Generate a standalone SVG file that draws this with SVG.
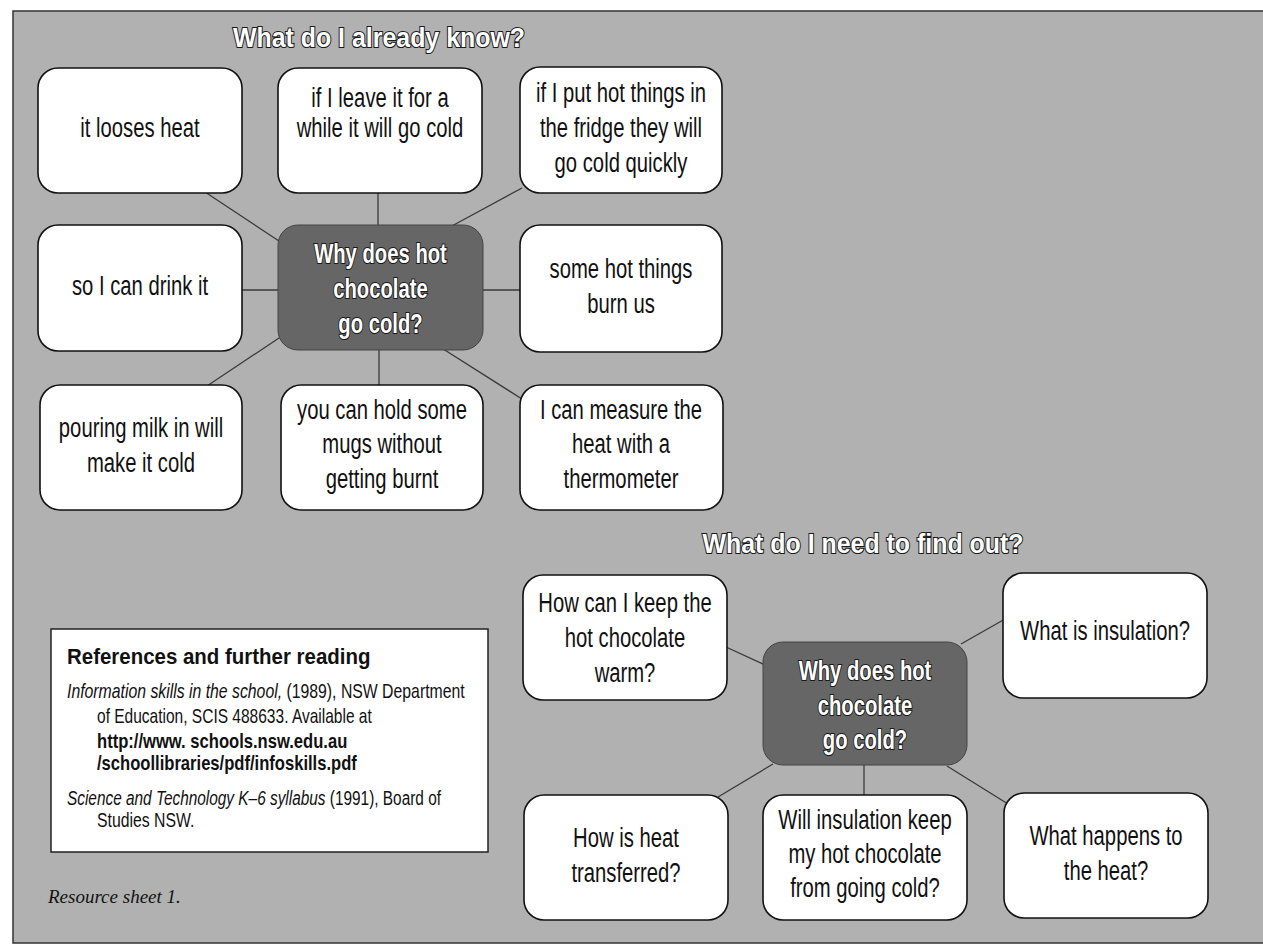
<svg xmlns="http://www.w3.org/2000/svg" width="1263" height="946" viewBox="0 0 1263 946">
<defs>
<style>
.bg{fill:#b1b1b1;stroke:#333;stroke-width:1.5}
.box{fill:#fff;stroke:#111;stroke-width:1.6}
.cbox{fill:#666666;stroke:#444;stroke-width:1}
.ln{stroke:#3a3a3a;stroke-width:1.3;fill:none}
.n{font-family:"Liberation Sans",Arial,sans-serif;font-size:27px;fill:#111;text-anchor:middle}
.c{font-family:"Liberation Sans",Arial,sans-serif;font-weight:bold;font-size:27px;fill:#fff;stroke:#1a1a1a;stroke-width:2.2;paint-order:stroke;text-anchor:middle}
.h{font-family:"Liberation Sans",Arial,sans-serif;font-weight:bold;font-size:28px;fill:#fff;stroke:#1a1a1a;stroke-width:2.2;paint-order:stroke;text-anchor:middle}
.r{font-family:"Liberation Sans",Arial,sans-serif;font-size:20px;fill:#111}
.rb{font-family:"Liberation Sans",Arial,sans-serif;font-size:20px;font-weight:bold;fill:#111}
.it{font-style:italic}
.foot{font-family:"Liberation Serif","Times New Roman",serif;font-style:italic;font-size:19px;fill:#111}
</style>
</defs>
<rect class="bg" x="13" y="11" width="1262" height="932"/>

<g id="titles">
<text class="h" transform="translate(379 47) scale(0.89 1)">What do I already know?</text>
<text class="h" transform="translate(863 553) scale(0.89 1)">What do I need to find out?</text>
</g>

<g id="connectors">
<line class="ln" x1="205" y1="192" x2="282" y2="243"/>
<line class="ln" x1="378" y1="192" x2="378" y2="226"/>
<line class="ln" x1="522" y1="188" x2="450" y2="227"/>
<line class="ln" x1="241" y1="290" x2="279" y2="290"/>
<line class="ln" x1="482" y1="290" x2="521" y2="290"/>
<line class="ln" x1="282" y1="336" x2="207" y2="386"/>
<line class="ln" x1="379" y1="349" x2="379" y2="386"/>
<line class="ln" x1="440" y1="347" x2="522" y2="399"/>
<line class="ln" x1="726" y1="647" x2="765" y2="665"/>
<line class="ln" x1="718" y1="797" x2="773" y2="764"/>
<line class="ln" x1="864" y1="764" x2="864" y2="796"/>
<line class="ln" x1="961" y1="644" x2="1005" y2="619"/>
<line class="ln" x1="947" y1="766" x2="1008" y2="804"/>
</g>

<g id="k1"><rect class="box" x="38" y="68" width="204" height="125" rx="20"/>
<text class="n" transform="translate(140 137) scale(0.75 1)">it looses heat</text></g>
<g id="k2"><rect class="box" x="278" y="68" width="204" height="125" rx="20"/>
<text class="n" transform="translate(380 0) scale(0.75 1)"><tspan x="0" y="107">if I leave it for a</tspan><tspan x="0" y="137">while it will go cold</tspan></text></g>
<g id="k3"><rect class="box" x="520" y="67" width="202" height="126" rx="20"/>
<text class="n" transform="translate(621 0) scale(0.75 1)"><tspan x="0" y="102">if I put hot things in</tspan><tspan x="0" y="137">the fridge they will</tspan><tspan x="0" y="172">go cold quickly</tspan></text></g>
<g id="k4"><rect class="box" x="38" y="225" width="204" height="126" rx="20"/>
<text class="n" transform="translate(140 295) scale(0.75 1)">so I can drink it</text></g>
<g id="center1"><rect class="cbox" x="278" y="225" width="205" height="125" rx="20"/>
<text class="c" transform="translate(380.5 0) scale(0.75 1)"><tspan x="0" y="263">Why does hot</tspan><tspan x="0" y="298">chocolate</tspan><tspan x="0" y="333">go cold?</tspan></text></g>
<g id="k6"><rect class="box" x="520" y="225" width="202" height="127" rx="20"/>
<text class="n" transform="translate(621 0) scale(0.75 1)"><tspan x="0" y="278">some hot things</tspan><tspan x="0" y="313">burn us</tspan></text></g>
<g id="k7"><rect class="box" x="40" y="385" width="202" height="125" rx="20"/>
<text class="n" transform="translate(141 0) scale(0.75 1)"><tspan x="0" y="437">pouring milk in will</tspan><tspan x="0" y="472">make it cold</tspan></text></g>
<g id="k8"><rect class="box" x="281" y="385" width="202" height="125" rx="20"/>
<text class="n" transform="translate(382 0) scale(0.75 1)"><tspan x="0" y="419">you can hold some</tspan><tspan x="0" y="453">mugs without</tspan><tspan x="0" y="488">getting burnt</tspan></text></g>
<g id="k9"><rect class="box" x="520" y="385" width="203" height="125" rx="20"/>
<text class="n" transform="translate(621 0) scale(0.75 1)"><tspan x="0" y="419">I can measure the</tspan><tspan x="0" y="453">heat with a</tspan><tspan x="0" y="488">thermometer</tspan></text></g>

<g id="q1"><rect class="box" x="523" y="575" width="204" height="125" rx="20"/>
<text class="n" transform="translate(625 0) scale(0.75 1)"><tspan x="0" y="612">How can I keep the</tspan><tspan x="0" y="647">hot chocolate</tspan><tspan x="0" y="682">warm?</tspan></text></g>
<g id="center2"><rect class="cbox" x="763" y="642" width="204" height="123" rx="20"/>
<text class="c" transform="translate(865 0) scale(0.75 1)"><tspan x="0" y="680">Why does hot</tspan><tspan x="0" y="715">chocolate</tspan><tspan x="0" y="749">go cold?</tspan></text></g>
<g id="q3"><rect class="box" x="1003" y="573" width="204" height="125" rx="20"/>
<text class="n" transform="translate(1105 640) scale(0.75 1)">What is insulation?</text></g>
<g id="q4"><rect class="box" x="524" y="795" width="204" height="125" rx="20"/>
<text class="n" transform="translate(626 0) scale(0.75 1)"><tspan x="0" y="847">How is heat</tspan><tspan x="0" y="882">transferred?</tspan></text></g>
<g id="q5"><rect class="box" x="763" y="795" width="204" height="125" rx="20"/>
<text class="n" transform="translate(865 0) scale(0.75 1)"><tspan x="0" y="829">Will insulation keep</tspan><tspan x="0" y="863">my hot chocolate</tspan><tspan x="0" y="897">from going cold?</tspan></text></g>
<g id="q6"><rect class="box" x="1004" y="793" width="204" height="125" rx="20"/>
<text class="n" transform="translate(1106 0) scale(0.75 1)"><tspan x="0" y="845">What happens to</tspan><tspan x="0" y="880">the heat?</tspan></text></g>

<g id="references">
<rect x="51" y="629" width="437" height="223" fill="#fff" stroke="#222" stroke-width="1.5"/>
<text class="rb" style="font-size:22px" transform="translate(67 664) scale(0.93 1)">References and further reading</text>
<text class="r" transform="translate(67 698) scale(0.79 1)"><tspan class="it">Information skills in the school,</tspan> (1989), NSW Department</text>
<text class="r" transform="translate(97 723) scale(0.776 1)">of Education, SCIS 488633. Available at</text>
<text class="rb" transform="translate(97 748) scale(0.83 1)">http://www. schools.nsw.edu.au</text>
<text class="rb" transform="translate(97 770) scale(0.83 1)">/schoollibraries/pdf/infoskills.pdf</text>
<text class="r" transform="translate(67 805) scale(0.77 1)"><tspan class="it">Science and Technology K–6 syllabus</tspan> (1991), Board of</text>
<text class="r" transform="translate(97 827) scale(0.79 1)">Studies NSW.</text>
</g>
<text class="foot" x="48" y="903">Resource sheet 1.</text>
</svg>
